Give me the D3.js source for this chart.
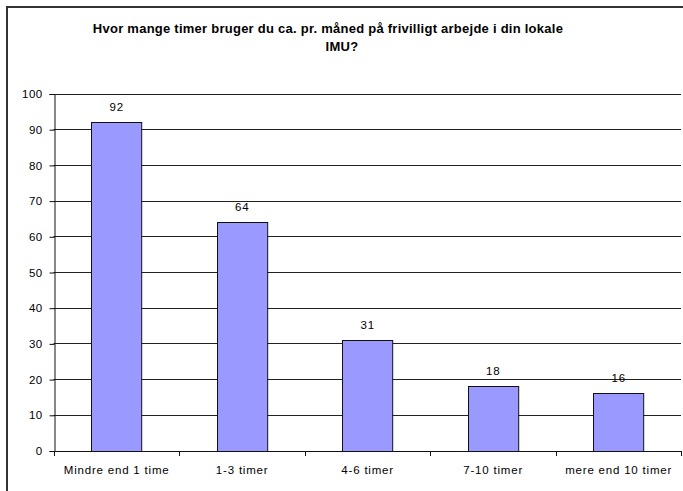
<!DOCTYPE html>
<html><head><meta charset="utf-8">
<script src="https://cdn.jsdelivr.net/npm/d3@7/dist/d3.min.js"></script>
<style>body{margin:0;background:#fff}svg{display:block}</style>
</head><body>
<script>
const categories = ["Mindre end 1 time", "1-3 timer", "4-6 timer", "7-10 timer", "mere end 10 timer"];
const values = [92, 64, 31, 18, 16];
const yTicks = [0, 10, 20, 30, 40, 50, 60, 70, 80, 90, 100];
const titleLines = ["Hvor mange timer bruger du ca. pr. måned på frivilligt arbejde i din lokale", "IMU?"];

(function () {
const W = 683, H = 491;
const svg = d3.select("body").append("svg").attr("width", W).attr("height", H);
const font = "Liberation Sans, Arial, sans-serif";

svg.append("rect").attr("x", 7).attr("y", 7).attr("width", 720).attr("height", 520)
  .attr("fill", "#fff").attr("stroke", "#333").attr("stroke-width", 2);

const pL = 53.5, pR = 681, pT = 93.5, pB = 450.5;
const x = d3.scaleBand().domain(categories).range([pL, pR]).paddingInner(0.6).paddingOuter(0.3);
const y = d3.scaleLinear().domain([0, 100]).range([pB, pT]);

// gridlines
svg.append("g").selectAll("line").data(yTicks.filter(d => d > 0)).join("line")
  .attr("x1", pL).attr("x2", pR)
  .attr("y1", d => Math.round(y(d)) + 0.5).attr("y2", d => Math.round(y(d)) + 0.5)
  .attr("stroke", "#222").attr("stroke-width", 1);

// bars
svg.append("g").selectAll("rect").data(values).join("rect")
  .attr("x", (d, i) => Math.round(x(categories[i])) + 0.5)
  .attr("y", d => Math.round(y(d)) + 0.5)
  .attr("width", x.bandwidth())
  .attr("height", d => Math.round(y(0)) - Math.round(y(d)))
  .attr("fill", "#9999FF").attr("stroke", "#111").attr("stroke-width", 1);

// value labels
svg.append("g").selectAll("text").data(values).join("text")
  .attr("x", (d, i) => x(categories[i]) + x.bandwidth() / 2 + 0.4)
  .attr("y", d => y(d) - 11)
  .attr("text-anchor", "middle").attr("font-family", font).attr("font-size", 11.5)
  .attr("letter-spacing", 0.8)
  .attr("fill", "#000").text(d => d);

// y axis
const yAxis = d3.axisLeft(y).tickValues(yTicks).tickSize(5).tickPadding(7);
const gy = svg.append("g").attr("transform", `translate(${Math.round(pL)+0.5},0.5)`).call(yAxis);
gy.select(".domain").attr("stroke", "#111");
gy.selectAll(".tick line").attr("stroke", "#111");
gy.selectAll("text").attr("font-family", font).attr("font-size", 11.5).attr("letter-spacing", 0.4).attr("fill", "#000");

// x axis line & boundary ticks
const xb = d3.scaleLinear().domain([0, categories.length]).range([pL, pR]);
const gx = svg.append("g");
gx.append("line").attr("x1", pL).attr("x2", pR).attr("y1", Math.round(pB) + 0.5).attr("y2", Math.round(pB) + 0.5).attr("stroke", "#111");
gx.selectAll("line.tk").data(d3.range(categories.length + 1)).join("line").attr("class", "tk")
  .attr("x1", d => Math.round(xb(d)) + 0.5).attr("x2", d => Math.round(xb(d)) + 0.5)
  .attr("y1", Math.round(pB)).attr("y2", Math.round(pB) + 5)
  .attr("stroke", "#111");
gx.selectAll("text").data(categories).join("text")
  .attr("x", d => x(d) + x.bandwidth() / 2 + 0.4).attr("y", 474)
  .attr("text-anchor", "middle").attr("font-family", font).attr("font-size", 11.5)
  .attr("letter-spacing", 0.8)
  .attr("fill", "#000").text(d => d);

// title
const titleX = [328, 342];
svg.append("g").selectAll("text").data(titleLines).join("text")
  .attr("x", (d, i) => titleX[i]).attr("y", (d, i) => 33 + i * 18)
  .attr("text-anchor", "middle").attr("font-family", font).attr("font-size", 13)
  .attr("letter-spacing", 0.25)
  .attr("font-weight", "bold").attr("fill", "#000").text(d => d);
})();
</script>
</body></html>
